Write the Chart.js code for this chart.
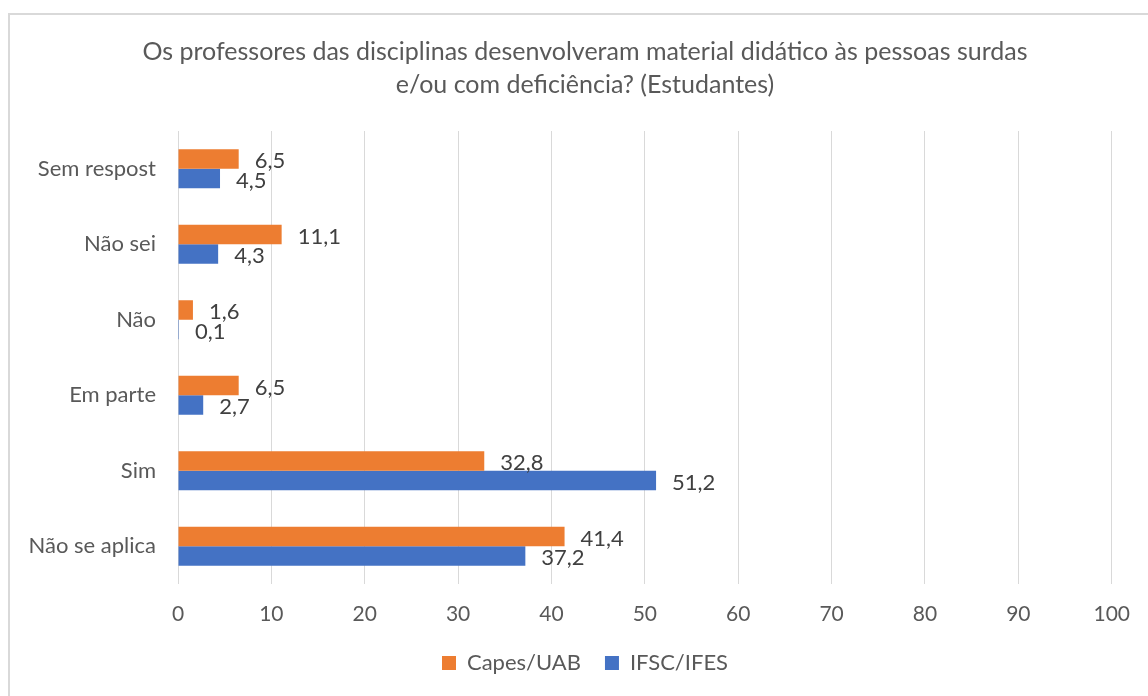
<!DOCTYPE html>
<html>
<head>
<meta charset="utf-8">
<script src="https://cdn.jsdelivr.net/npm/chart.js@4/dist/chart.umd.min.js"></script>
<style>
  html, body { margin: 0; padding: 0; background: #ffffff; }
  #wrap { position: relative; width: 1148px; height: 696px; overflow: hidden; }
  #frame { position: absolute; left: 8px; top: 13px; width: 1200px; height: 800px;
           border-left: 2px solid #d9d9d9; border-top: 2px solid #d9d9d9; }
  canvas { position: absolute; left: 0; top: 0; }
</style>
</head>
<body>
<div id="wrap">
  <div id="frame"></div>
  <canvas id="c" width="1148" height="696"></canvas>
</div>
<script>
const titleLines = ["Os professores das disciplinas desenvolveram material didático às pessoas surdas",
                    "e/ou com deficiência? (Estudantes)"];
const categories = ["Sem respost", "Não sei", "Não", "Em parte", "Sim", "Não se aplica"];
const capesUab = [6.5, 11.1, 1.6, 6.5, 32.8, 41.4];
const ifscIfes = [4.5, 4.3, 0.1, 2.7, 51.2, 37.2];
const seriesNames = ["Capes/UAB", "IFSC/IFES"];
const xTicks = [0, 10, 20, 30, 40, 50, 60, 70, 80, 90, 100];

const FONT = "Lato, 'Open Sans', sans-serif";

const valueLabels = {
  id: 'valueLabels',
  afterDatasetsDraw(chart) {
    const ctx = chart.ctx;
    ctx.save();
    ctx.font = "22px " + FONT;
    ctx.fillStyle = "#404040";
    ctx.textAlign = "left";
    ctx.textBaseline = "middle";
    chart.data.datasets.forEach((ds, di) => {
      const meta = chart.getDatasetMeta(di);
      meta.data.forEach((el, i) => {
        const v = ds.data[i];
        const txt = String(v).replace('.', ',');
        ctx.fillText(txt, el.x + 16, el.y + 2);
      });
    });
    ctx.restore();
  }
};

new Chart(document.getElementById('c'), {
  type: 'bar',
  data: {
    labels: categories,
    datasets: [
      { label: seriesNames[0], data: capesUab, backgroundColor: '#ED7D31', borderWidth: 0,
        categoryPercentage: 0.516, barPercentage: 1.0 },
      { label: seriesNames[1], data: ifscIfes, backgroundColor: '#4472C4', borderWidth: 0,
        categoryPercentage: 0.516, barPercentage: 1.0 }
    ]
  },
  options: {
    indexAxis: 'y',
    responsive: false,
    animation: false,
    devicePixelRatio: 1,
    layout: { padding: { left: 22, right: 0, top: 0, bottom: 12 } },
    scales: {
      x: {
        min: 0, max: 100,
        afterBuildTicks(scale) { scale.ticks = xTicks.map(v => ({ value: v })); },
        ticks: { color: '#595959', font: { family: FONT, size: 21 }, padding: 18,
                 callback: (v) => String(v) },
        grid: { color: '#d9d9d9', lineWidth: 1, drawTicks: false },
        border: { display: false },
        afterFit(scale) { scale.height = 44; }
      },
      y: {
        ticks: { color: '#595959', font: { family: FONT, size: 22 }, padding: 22 },
        grid: { display: false, drawTicks: false },
        border: { display: false },
        afterFit(scale) { scale.width = 156; }
      },
      y2: {
        position: 'right',
        display: true,
        ticks: { display: false },
        grid: { display: false, drawTicks: false },
        border: { display: false },
        afterFit(scale) { scale.width = 35; }
      }
    },
    plugins: {
      title: {
        display: true,
        text: titleLines,
        color: '#595959',
        font: { family: FONT, size: 25, weight: 'normal', lineHeight: 1.32 },
        padding: { top: 35, bottom: 30 }
      },
      legend: {
        position: 'bottom',
        labels: {
          color: '#595959',
          font: { family: FONT, size: 22 },
          boxWidth: 14, boxHeight: 14,
          padding: 24
        }
      },
      tooltip: { enabled: false }
    }
  },
  plugins: [valueLabels]
});
</script>
</body>
</html>
